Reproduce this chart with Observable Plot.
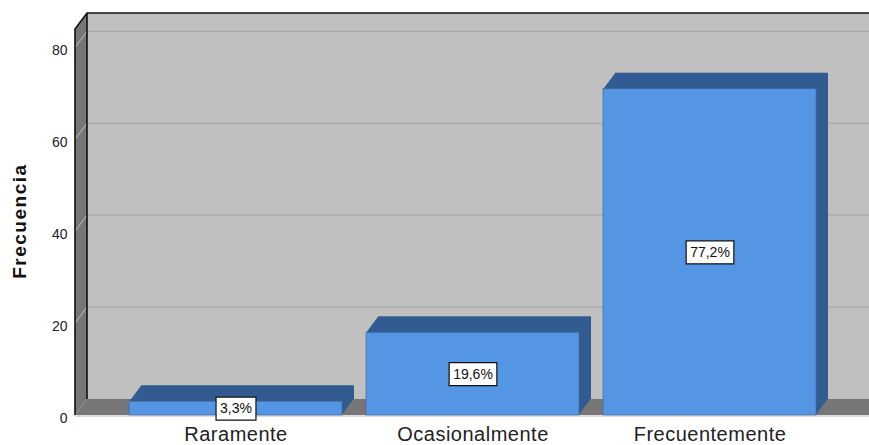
<!DOCTYPE html>
<html>
<head>
<meta charset="utf-8">
<script src="https://cdn.jsdelivr.net/npm/d3@7"></script>
<script src="https://cdn.jsdelivr.net/npm/@observablehq/plot@0.6"></script>
<style>
  html, body { margin: 0; padding: 0; background: #fff; }
</style>
</head>
<body>
<div id="chart"></div>
<script>
// Frecuencia de respuesta por categoría
const categorias = ["Raramente", "Ocasionalmente", "Frecuentemente"];
const frecuencias = [3, 18, 71];
const yTicks = [0, 20, 40, 60, 80];
const yTitulo = "Frecuencia";

const total = d3.sum(frecuencias);
const fmtPct = v => (Math.round(v * 1000) / 10).toFixed(1).replace(".", ",") + "%";
const datos = categorias.map((c, i) => ({
  cat: c,
  n: frecuencias[i],
  etiqueta: fmtPct(frecuencias[i] / total)
}));

// measure label text so each white box fits its text
const FONT = "'Liberation Sans', Arial, sans-serif";
const ctx = document.createElement("canvas").getContext("2d");
ctx.font = `14px ${FONT}`;
datos.forEach(d => { d.caja = ctx.measureText(d.etiqueta).width + 8; });

// depth of the 3D extrusion (pixels)
const DX = 12, DY = 16, PASOS = 16;

const colores = {
  pared: "#c0c0c0",
  lateral: "#767676",
  rejilla: "#a9a9a9",
  frente: "#5596e4",
  sombra: "#325c91"
};

// back wall, side wall, floor and gridlines
function paredes(index, scales, values, dims) {
  const {width, marginLeft: l, marginTop: t, height, marginBottom: b} = dims;
  const y0 = height - b;
  const g = d3.create("svg:g");
  g.append("rect")
    .attr("x", l + DX).attr("y", t - DY)
    .attr("width", width).attr("height", y0 - t)
    .attr("fill", colores.pared);
  g.append("path")
    .attr("d", `M${l},${t}L${l + DX},${t - DY}L${l + DX},${y0 - DY}L${l},${y0}Z`)
    .attr("fill", colores.lateral);
  g.append("path")
    .attr("d", `M${l},${y0}L${l + DX},${y0 - DY}L${width + DX},${y0 - DY}L${width + DX},${y0}Z`)
    .attr("fill", colores.lateral);
  for (const v of yTicks) {
    if (v === 0) continue;
    const yy = scales.y(v);
    g.append("path")
      .attr("d", `M${l},${yy}L${l + DX},${yy - DY}L${width + DX},${yy - DY}`)
      .attr("fill", "none")
      .attr("stroke", colores.rejilla)
      .attr("stroke-width", 1.2);
  }
  g.append("path")
    .attr("d", `M${l},${y0}L${l},${t}L${l + DX},${t - DY}L${width + DX},${t - DY}M${l + DX},${t - DY}L${l + DX},${y0 - DY}`)
    .attr("fill", "none")
    .attr("stroke", "#111")
    .attr("stroke-width", 1.6);
  g.append("line")
    .attr("x1", l).attr("x2", width + DX)
    .attr("y1", y0 + 1).attr("y2", y0 + 1)
    .attr("stroke", "#d2d2d2")
    .attr("stroke-width", 1.5);
  return g.node();
}

// extruded (top and side) faces of the bars
const extrusion = d3.range(PASOS, 0, -1).map(k =>
  Plot.barY(datos, {
    x: "cat", y: "n",
    fill: colores.sombra,
    dx: DX * k / PASOS,
    dy: -DY * k / PASOS
  })
);

const caja = {
  draw(context, size) {
    const w = Math.sqrt(size / Math.PI);
    context.rect(-w / 2, -11.5, w, 23);
  }
};

const chart = Plot.plot({
  width: 869,
  height: 445,
  marginLeft: 75,
  marginRight: 0,
  marginTop: 29,
  marginBottom: 30,
  style: {fontFamily: FONT, background: "#fff", overflow: "hidden"},
  x: {domain: categorias, range: [103.6, 841.4], padding: 0.1, axis: null},
  y: {domain: [0, 84], axis: null},
  r: {type: "identity"},
  marks: [
    paredes,
    ...extrusion,
    Plot.barY(datos, {
      x: "cat", y: "n",
      fill: colores.frente,
      stroke: "#47689a",
      strokeWidth: 0.7
    }),
    Plot.dot(datos, {
      x: "cat", y: d => d.n / 2,
      r: "caja",
      symbol: caja,
      fill: "#fff",
      stroke: "#111",
      strokeWidth: 1.2
    }),
    Plot.text(datos, {
      x: "cat", y: d => d.n / 2,
      text: "etiqueta",
      fontSize: 14,
      fill: "#111"
    }),
    Plot.text(yTicks, {
      y: d => d,
      text: d => String(d),
      frameAnchor: "left",
      textAnchor: "end",
      dx: -8, dy: 3,
      fontSize: 14,
      fill: "#222"
    }),
    Plot.text(categorias, {
      x: d => d,
      text: d => d,
      frameAnchor: "bottom",
      lineAnchor: "top",
      dy: 11,
      fontSize: 20,
      fill: "#222"
    }),
    Plot.text([yTitulo], {
      y: [42.3],
      text: d => d,
      frameAnchor: "left",
      textAnchor: "middle",
      rotate: -90,
      dx: -55.5,
      fontSize: 19,
      fontWeight: "bold",
      fill: "#111"
    })
  ]
});

// letter spacing of the axis title and category names
d3.select(chart).selectAll("text")
  .filter(function () { return this.textContent === yTitulo; })
  .style("letter-spacing", "1.5px");
d3.select(chart).selectAll("text")
  .filter(function () { return categorias.includes(this.textContent); })
  .style("letter-spacing", "0.5px");

document.getElementById("chart").appendChild(chart);
</script>
</body>
</html>
